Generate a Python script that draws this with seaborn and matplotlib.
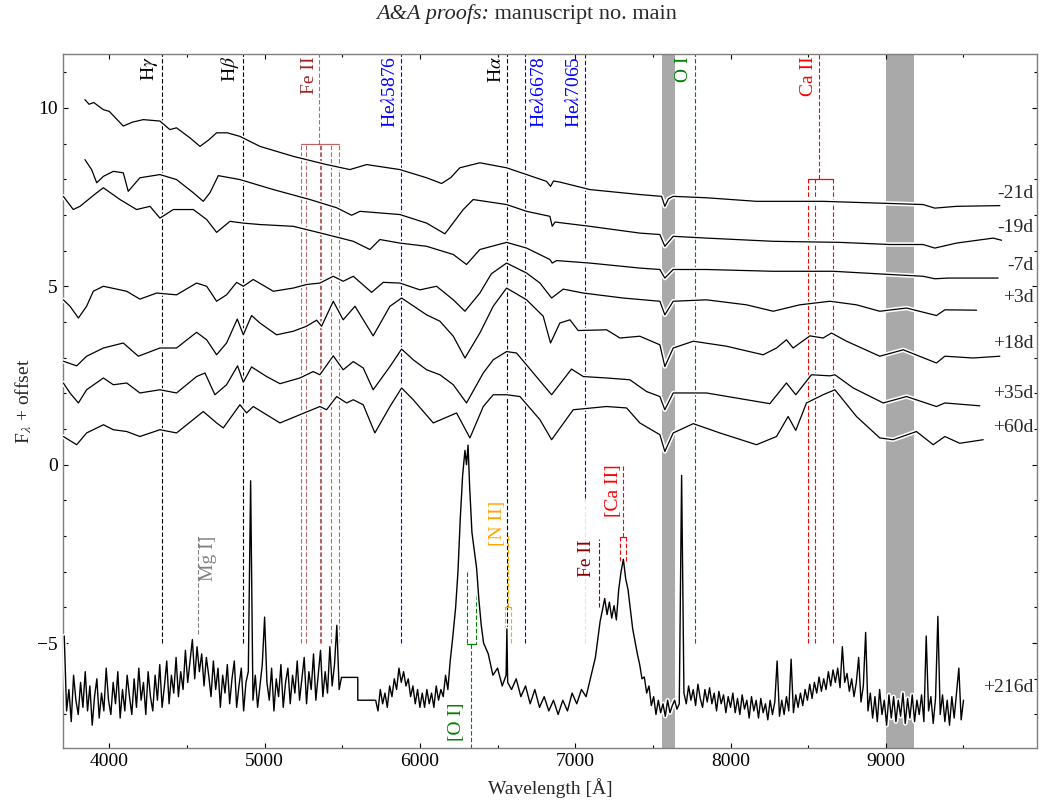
import matplotlib
matplotlib.use("Agg")
import matplotlib.pyplot as plt
import matplotlib.patheffects as pe
from matplotlib.ticker import MultipleLocator
import pandas as pd
import seaborn as sns

# spectra: wavelength [A], flux + offset
wave_m21 = [3843, 3870, 3900, 3961, 4000, 4090, 4150, 4219, 4326, 4390,
            4433, 4519, 4584, 4640, 4691, 4760, 4841, 4970, 5185, 5399,
            5549, 5657, 5871, 6043, 6140, 6200, 6257, 6386, 6558, 6687,
            6815, 6841, 6860, 6901, 7094, 7416, 7556, 7577, 7600, 7631,
            7845, 8167, 8596, 9026, 9240, 9315, 9455, 9734]
flux_m21 = [10.23, 10.1, 10.15, 9.95, 9.9, 9.49, 9.6, 9.67, 9.63, 9.39,
            9.44, 9.16, 8.92, 9.1, 9.30, 9.3, 9.20, 8.92, 8.64, 8.41,
            8.27, 8.41, 8.27, 8.04, 7.88, 8.05, 8.32, 8.46, 8.32, 8.13,
            7.94, 7.80, 7.95, 7.92, 7.71, 7.57, 7.52, 7.24, 7.45, 7.52,
            7.48, 7.38, 7.38, 7.32, 7.29, 7.19, 7.24, 7.26]

wave_m19 = [3843, 3886, 3919, 3962, 4026, 4090, 4122, 4197, 4326, 4433,
            4541, 4605, 4648, 4702, 4841, 5056, 5292, 5464, 5560, 5614,
            5871, 6043, 6161, 6279, 6343, 6558, 6687, 6837, 6852, 6870,
            7094, 7416, 7545, 7577, 7631, 7845, 8274, 8704, 9026, 9240,
            9315, 9455, 9691, 9745]
flux_m19 = [8.55, 8.27, 7.90, 8.08, 8.22, 8.18, 7.66, 8.04, 8.13, 7.99,
            7.62, 7.38, 7.62, 8.10, 7.99, 7.71, 7.43, 7.20, 6.99, 7.10,
            7.01, 6.77, 6.47, 7.15, 7.43, 7.29, 7.10, 6.96, 6.68, 6.80,
            6.68, 6.49, 6.45, 6.12, 6.40, 6.35, 6.26, 6.23, 6.17, 6.17,
            6.07, 6.21, 6.35, 6.29]

wave_m7 = [3704, 3768, 3811, 3919, 3962, 4069, 4176, 4262, 4326, 4412,
           4541, 4627, 4691, 4777, 4863, 4970, 5185, 5399, 5571, 5678,
           5742, 5871, 6043, 6215, 6300, 6386, 6558, 6687, 6837, 6852,
           6880, 7094, 7416, 7545, 7577, 7631, 7845, 8274, 8661, 9026,
           9240, 9315, 9400, 9723]
flux_m7 = [7.52, 7.15, 7.24, 7.62, 7.76, 7.43, 7.15, 7.24, 6.91, 7.15,
           7.15, 6.87, 6.51, 6.82, 6.77, 6.73, 6.68, 6.45, 6.26, 6.03,
           6.31, 6.21, 6.12, 5.89, 5.61, 6.03, 6.23, 6.07, 5.75, 5.65,
           5.72, 5.65, 5.51, 5.47, 5.23, 5.47, 5.47, 5.42, 5.42, 5.33,
           5.28, 5.21, 5.23, 5.23]

wave_p3 = [3704, 3747, 3801, 3854, 3897, 3962, 4112, 4197, 4305, 4433,
           4562, 4627, 4691, 4755, 4820, 4863, 4927, 5056, 5185, 5270,
           5356, 5442, 5506, 5571, 5689, 5764, 5871, 6000, 6107, 6215,
           6290, 6386, 6460, 6558, 6687, 6773, 6848, 6923, 7052, 7309,
           7545, 7577, 7631, 7845, 8103, 8275, 8446, 8640, 8811, 8961,
           9133, 9326, 9380, 9584]
flux_p3 = [4.62, 4.44, 4.11, 4.44, 4.86, 5.00, 4.86, 4.64, 4.81, 4.76,
           5.09, 5.00, 4.58, 4.76, 5.11, 5.00, 5.19, 4.86, 4.95, 5.05,
           5.09, 5.28, 5.14, 5.28, 4.83, 5.11, 5.09, 4.90, 5.00, 4.62,
           4.30, 4.81, 5.35, 5.65, 5.37, 5.09, 4.67, 4.92, 4.81, 4.67,
           4.58, 4.20, 4.58, 4.62, 4.48, 4.30, 4.48, 4.58, 4.48, 4.30,
           4.39, 4.18, 4.34, 4.33]

wave_p18 = [3704, 3790, 3854, 3962, 4090, 4187, 4326, 4433, 4562, 4627,
            4691, 4755, 4824, 4863, 4916, 4970, 5077, 5185, 5270, 5335,
            5367, 5442, 5506, 5582, 5699, 5807, 5882, 6043, 6129, 6215,
            6290, 6386, 6472, 6558, 6687, 6794, 6841, 6901, 6966, 7019,
            7202, 7288, 7416, 7545, 7577, 7631, 7760, 7974, 8210, 8296,
            8360, 8403, 8511, 8596, 8650, 8747, 8961, 9112, 9326, 9380,
            9562, 9734]
flux_p18 = [2.90, 2.77, 3.04, 3.27, 3.41, 3.04, 3.27, 3.27, 3.71, 3.50,
            3.08, 3.41, 4.08, 3.64, 4.18, 3.97, 3.64, 3.74, 3.88, 4.05,
            3.88, 4.58, 4.06, 4.44, 3.61, 4.44, 4.67, 4.20, 4.02, 3.60,
            2.99, 3.69, 4.44, 4.95, 4.62, 4.16, 3.41, 3.97, 4.06, 3.76,
            3.78, 3.55, 3.60, 3.36, 2.75, 3.27, 3.46, 3.32, 3.08, 3.27,
            3.50, 3.27, 3.61, 3.55, 3.69, 3.46, 3.04, 3.22, 2.85, 3.04,
            2.99, 3.04]

wave_p35 = [3704, 3747, 3801, 3854, 3962, 4026, 4112, 4197, 4326, 4433,
            4562, 4616, 4680, 4755, 4826, 4863, 4916, 5013, 5099, 5227,
            5313, 5356, 5442, 5506, 5571, 5635, 5699, 5807, 5882, 5957,
            6043, 6129, 6215, 6300, 6408, 6472, 6558, 6622, 6730, 6848,
            6976, 7052, 7202, 7352, 7459, 7545, 7577, 7631, 7845, 8253,
            8360, 8420, 8521, 8640, 8672, 8790, 8983, 9133, 9326, 9380,
            9605]
flux_p35 = [2.29, 2.01, 1.73, 2.10, 2.43, 2.24, 2.29, 2.01, 2.10, 2.01,
            2.47, 2.57, 1.96, 2.24, 2.77, 2.31, 2.74, 2.47, 2.27, 2.43,
            2.61, 2.52, 3.05, 2.66, 2.89, 2.71, 2.10, 2.75, 3.24, 2.94,
            2.66, 2.52, 2.24, 1.73, 2.57, 2.94, 3.17, 3.13, 2.57, 1.96,
            2.68, 2.47, 2.43, 2.38, 2.05, 1.91, 1.54, 2.01, 2.01, 1.71,
            2.29, 1.96, 2.52, 2.49, 2.52, 2.15, 1.73, 1.91, 1.63, 1.73,
            1.65]

wave_p60 = [3704, 3790, 3854, 3962, 4026, 4112, 4197, 4326, 4433, 4605,
            4691, 4734, 4841, 4884, 4927, 5099, 5227, 5356, 5399, 5464,
            5528, 5571, 5635, 5710, 5807, 5882, 5957, 6086, 6236, 6322,
            6408, 6472, 6558, 6644, 6773, 6848, 6987, 7202, 7331, 7416,
            7545, 7577, 7631, 7760, 7931, 8167, 8296, 8371, 8420, 8489,
            8596, 8672, 8811, 8961, 9047, 9197, 9305, 9380, 9476, 9627]
flux_p60 = [0.79, 0.56, 0.89, 1.12, 0.98, 0.93, 0.79, 0.98, 0.89, 1.49,
            1.17, 1.03, 1.68, 1.45, 1.63, 1.17, 1.40, 1.63, 1.54, 1.91,
            1.73, 1.82, 1.68, 0.89, 1.63, 2.15, 1.82, 1.17, 1.45, 0.75,
            1.63, 1.96, 1.96, 1.91, 1.26, 0.70, 1.54, 1.63, 1.59, 1.17,
            0.84, 0.37, 0.89, 1.15, 0.89, 0.56, 0.79, 1.35, 0.96, 1.73,
            1.96, 2.10, 1.35, 0.75, 0.70, 0.93, 0.56, 0.79, 0.60, 0.70]

# +216d (nebular), noisy: successive highs and lows
neb_blue_wave = [3710, 3725, 3740, 3755, 3770, 3785, 3800, 3815, 3830, 3845,
                 3860, 3875, 3890, 3905, 3920, 3935, 3950, 3965, 3980, 3995,
                 4010, 4025, 4040, 4055, 4070, 4085, 4100, 4115, 4130, 4145,
                 4160, 4175, 4190, 4205, 4220, 4235, 4250, 4265, 4280, 4295,
                 4310, 4325, 4340, 4355, 4370, 4385, 4400, 4415, 4430, 4445,
                 4460, 4475, 4490, 4505, 4520, 4535, 4550, 4565, 4580, 4595,
                 4610, 4625, 4640, 4655, 4670, 4685, 4700, 4715, 4730, 4745,
                 4760, 4775, 4790, 4805, 4820, 4835, 4850, 4865, 4880, 4895,
                 4910, 4925, 4940, 4955, 4970, 4985, 5000, 5015, 5030, 5045,
                 5060, 5075, 5090, 5105, 5120, 5135, 5150, 5165, 5180, 5195,
                 5210, 5225, 5240, 5255, 5270, 5285, 5300, 5315, 5330, 5345,
                 5360, 5375, 5390, 5405, 5420, 5435, 5450, 5465, 5480, 5495]
neb_blue_flux = [-4.8, -6.9, -6.3, -7.2, -5.9, -6.6, -7.0, -6.1, -6.8, -5.8,
                 -6.9, -6.2, -7.3, -6.5, -6.0, -7.1, -6.4, -6.9, -5.7, -6.6,
                 -7.0, -6.1, -6.7, -5.8, -7.1, -6.3, -6.9, -5.9, -6.5, -7.0,
                 -6.0, -6.8, -5.7, -6.6, -6.1, -7.0, -5.8, -6.5, -6.9, -5.9,
                 -6.6, -5.6, -6.8, -6.2, -5.5, -6.7, -5.9, -6.4, -5.4, -6.5,
                 -5.8, -6.3, -5.2, -6.1, -5.5, -4.9, -6.0, -5.1, -5.8, -5.3,
                 -6.2, -5.4, -5.9, -6.5, -5.5, -6.3, -5.7, -6.8, -5.9, -6.4,
                 -5.6, -6.7, -6.0, -5.5, -6.8, -6.2, -5.7, -6.9, -6.1, -5.8,
                 -0.45, -6.6, -5.9, -6.8, -6.2, -5.6, -4.27, -6.1, -6.6, -5.7,
                 -6.9, -6.0, -6.5, -5.6, -6.8, -6.1, -5.7, -6.7, -5.9, -6.4,
                 -5.5, -6.6, -6.0, -5.4, -6.7, -5.8, -6.3, -5.3, -6.6, -5.9,
                 -5.2, -6.5, -5.8, -6.4, -5.1, -6.2, -5.6, -4.5, -6.3, -5.96]
neb_gap_wave = [5600, 5600]
neb_gap_flux = [-5.96, -6.6]
neb_mid_wave = [5715, 5730, 5745, 5760, 5775, 5790, 5805, 5820, 5835, 5850,
                5865, 5880, 5895, 5910, 5925, 5940, 5955, 5970, 5985, 6000,
                6015, 6030, 6045, 6060, 6075, 6090, 6105, 6120, 6135, 6150,
                6165, 6180, 6195]
neb_mid_flux = [-6.6, -6.9, -6.3, -6.7, -6.4, -6.8, -6.2, -6.5, -6.0, -6.3,
                -5.7, -6.1, -5.8, -6.2, -6.0, -6.5, -6.2, -6.7, -6.3, -6.8,
                -6.4, -6.8, -6.3, -6.7, -6.4, -6.8, -6.2, -6.6, -6.3, -6.5,
                -5.9, -6.3, -5.5]
neb_core_wave = [6210, 6230, 6245, 6260, 6275, 6290, 6300, 6310, 6320, 6335,
                 6350, 6365, 6380, 6395, 6410, 6440, 6470, 6500, 6530, 6555,
                 6560, 6565, 6590, 6620, 6650, 6680, 6710, 6740, 6770, 6800,
                 6830, 6860, 6890, 6920, 6950, 6980, 7010, 7040, 7070, 7100,
                 7130, 7160, 7190, 7205, 7220, 7235, 7250, 7265, 7280, 7295,
                 7310, 7325, 7340, 7370, 7400]
neb_core_flux = [-4.9, -4.0, -3.0, -1.5, -0.3, 0.4, 0.0, 0.55, -0.6, -1.9,
                 -2.4, -2.9, -3.8, -4.5, -5.0, -5.3, -5.9, -5.7, -6.2, -5.9,
                 -4.6, -6.1, -6.3, -6.0, -6.5, -6.2, -6.7, -6.3, -6.8, -6.5,
                 -6.9, -6.6, -7.0, -6.6, -6.9, -6.4, -6.7, -6.3, -6.5, -5.95,
                 -5.4, -4.4, -3.75, -4.2, -3.85, -4.3, -3.95, -4.35, -3.5, -3.0,
                 -2.65, -3.2, -3.5, -4.6, -5.3]
neb_red_wave = [7415, 7430, 7445, 7460, 7475, 7490, 7505, 7520, 7535, 7550,
                7565, 7580, 7595, 7610, 7625, 7640, 7655, 7670, 7685, 7700,
                7715, 7730, 7745, 7760, 7775, 7790, 7805, 7820, 7835, 7850,
                7865, 7880, 7895, 7910, 7925, 7940, 7955, 7970, 7985, 8000,
                8015, 8030, 8045, 8060, 8075, 8090, 8105, 8120, 8135, 8150,
                8165, 8180, 8195, 8210, 8225, 8240, 8255, 8270, 8285, 8300,
                8315, 8330, 8345, 8360, 8375, 8390, 8405, 8420, 8435, 8450,
                8465, 8480, 8495, 8510, 8525, 8540, 8555, 8570, 8585, 8600,
                8615, 8630, 8645, 8660, 8675, 8690, 8705, 8720, 8735, 8750,
                8765, 8780, 8795, 8810, 8825, 8840, 8855, 8870, 8885, 8900,
                8915, 8930, 8945, 8960, 8975, 8990, 9005, 9020, 9035, 9050,
                9065, 9080, 9095, 9110, 9125, 9140, 9155, 9170, 9185, 9200,
                9215, 9230, 9245, 9260, 9275, 9290, 9305, 9320, 9335, 9350,
                9365, 9380, 9395, 9410, 9425, 9440, 9455, 9470, 9485, 9500]
neb_red_flux = [-5.6, -6.0, -5.95, -6.4, -6.2, -6.75, -6.5, -7.0, -6.6, -6.95,
                -6.7, -7.05, -6.6, -6.95, -6.75, -6.6, -6.85, -6.7, -0.3, -6.4,
                -6.7, -6.2, -6.6, -6.3, -6.75, -6.15, -6.55, -6.8, -6.3, -6.65,
                -6.25, -6.7, -6.4, -6.9, -6.35, -6.7, -6.45, -6.95, -6.5, -6.8,
                -6.4, -6.95, -6.55, -7.0, -6.45, -6.85, -6.6, -7.1, -6.5, -6.9,
                -6.6, -7.1, -6.55, -6.95, -6.7, -7.15, -6.6, -7.0, -6.65, -5.5,
                -7.05, -6.6, -7.0, -6.5, -6.9, -5.45, -6.95, -6.45, -6.8, -6.4,
                -6.75, -6.3, -6.6, -6.15, -6.55, -6.1, -6.4, -5.95, -6.35, -6.0,
                -6.3, -5.8, -6.2, -5.75, -6.1, -5.7, -6.25, -5.1, -6.1, -5.85,
                -6.35, -6.0, -6.5, -6.1, -5.4, -6.65, -6.2, -4.7, -6.9, -6.4,
                -7.1, -6.5, -7.2, -6.3, -7.0, -6.6, -7.3, -6.45, -7.1, -6.5,
                -7.2, -6.6, -7.05, -6.4, -7.25, -6.55, -7.1, -6.45, -7.2, -6.6,
                -7.0, -6.45, -7.2, -4.8, -6.9, -6.5, -7.25, -6.55, -4.25, -7.0,
                -6.45, -7.2, -6.6, -7.3, -6.5, -7.1, -6.4, -5.7, -7.15, -6.6]

wave_p216 = neb_blue_wave + neb_gap_wave + neb_mid_wave + neb_core_wave + neb_red_wave
flux_p216 = neb_blue_flux + neb_gap_flux + neb_mid_flux + neb_core_flux + neb_red_flux

epochs = ["-21d", "-19d", "-7d", "+3d", "+18d", "+35d", "+60d", "+216d"]
waves = [wave_m21, wave_m19, wave_m7, wave_p3, wave_p18, wave_p35, wave_p60, wave_p216]
fluxes = [flux_m21, flux_m19, flux_m7, flux_p3, flux_p18, flux_p35, flux_p60, flux_p216]

# line identifications [A]
h_names = [r"H$\gamma$", r"H$\beta$", r"H$\alpha$"]
h_waves = [4340.5, 4861.3, 6562.8]
he_names = [r"He$\lambda$5876", r"He$\lambda$6678", r"He$\lambda$7065"]
he_waves = [5875.6, 6678.2, 7065.2]
oi_wave = 7773.4
feii_waves = [5234.6, 5264.8, 5354.0, 5362.9, 5425.3, 5477.0]
caii_waves = [8498.0, 8542.1, 8662.1]
telluric = [(7560, 7640), (9000, 9180)]
# nebular lines
mgi_wave = 4571.1
oi_neb_waves = [6300.3, 6363.8]
nii_waves = [6548.1, 6583.5]
feii_neb_wave = 7155.2
caii_neb_waves = [7291.5, 7323.9]

df = pd.concat([pd.DataFrame({"epoch": e, "wave": w, "flux": f})
                for e, w, f in zip(epochs, waves, fluxes)], ignore_index=True)

sns.set_style("ticks")
plt.rcParams["font.family"] = ["Liberation Serif", "DejaVu Serif"]
plt.rcParams["mathtext.fontset"] = "stix"
plt.rcParams["font.size"] = 14

fig = plt.figure(figsize=(10.45, 8.07), dpi=100)
ax = fig.add_axes([0.060, 0.0735, 0.9326, 0.8592])

YMIN, YMAX = -7.93, 11.5
dash = (0, (4, 2))


def vline(x, y0, y1, color, alpha=1.0):
    ax.plot([x, x], [y0, y1], ls=dash, lw=0.8, color=color, alpha=alpha, zorder=2)


def bracket(ws, y_bar, y_ends, y_stem, color, alpha=1.0):
    if not isinstance(y_ends, list):
        y_ends = [y_ends] * len(ws)
    for w, ye in zip(ws, y_ends):
        vline(w, ye, y_bar, color, alpha)
    ax.plot([min(ws), max(ws)], [y_bar, y_bar], color=color, lw=0.9, alpha=alpha, zorder=2)
    c = sum(ws) / len(ws)
    vline(c, y_bar, y_stem, color, alpha)
    return c


def label(x, y, s, color, ha="right", va="top", alpha=1.0):
    ax.text(x, y, s, rotation=90, ha=ha, va=va, color=color, fontsize=14, alpha=alpha)


for lo, hi in telluric:
    ax.axvspan(lo, hi, color="#a9a9a9", lw=0, zorder=0.5)

TOP = 11.45
for n, w in zip(h_names, h_waves):
    vline(w, -5, YMAX, "k")
    label(w - 12, TOP, n, "k")
for n, w in zip(he_names, he_waves):
    if n.endswith("7065"):
        vline(w, -5, -0.93, "blue", alpha=0.12)
        vline(w, -0.93, YMAX, "blue")
    else:
        vline(w, -5, YMAX, "blue")
    if n.endswith("6678"):
        label(w + 30, TOP, n, "blue", ha="left")
    else:
        label(w - 12, TOP, n, "blue")
vline(oi_wave, -5, YMAX, "green")
label(oi_wave - 20, TOP, "O I", "green")
c = bracket(feii_waves, 9.0, -5, YMAX, "darkred", alpha=0.6)
label(c - 12, TOP, "Fe II", "darkred", alpha=0.85)
c = bracket(caii_waves, 8.0, -5, YMAX, "red")
label(c - 12, TOP, "Ca II", "red")

# nebular identifications
vline(mgi_wave, -4.75, -2.0, "gray")
label(mgi_wave + 12, -2.0, "Mg I]", "gray", ha="left")
c = bracket(oi_neb_waves, -5.03, [-3.0, -3.65], YMIN, "green")
label(c - 40, -7.75, "[O I]", "green", va="bottom")
c = bracket(nii_waves, -4.0, -5.0, -2.0, "orange")
label(c - 10, -1.0, "[N II]", "orange")
vline(feii_neb_wave, -4.0, -2.08, "darkred")
label(feii_neb_wave - 25, -2.08, "Fe II", "darkred")
c = bracket(caii_neb_waves, -2.03, -2.7, 0.0, "red")
label(c - 8, 0.0, "[Ca II]", "red")

halo = [pe.Stroke(linewidth=3.2, foreground="w"), pe.Normal()]
for e in epochs:
    sub = df[df["epoch"] == e]
    sns.lineplot(data=sub, x="wave", y="flux", ax=ax, color="k",
                 lw=1.0 if e == "+216d" else 0.9,
                 sort=False, estimator=None, zorder=3, path_effects=halo)
    ax.text(9950, sub["flux"].iloc[-1] + 0.35, e, ha="right", va="center", fontsize=14)

ax.set_xlim(3700, 9975)
ax.set_ylim(YMIN, YMAX)
ax.xaxis.set_major_locator(MultipleLocator(1000))
ax.xaxis.set_minor_locator(MultipleLocator(500))
ax.yaxis.set_major_locator(MultipleLocator(5))
ax.yaxis.set_minor_locator(MultipleLocator(1))
ax.tick_params(which="both", direction="in", top=True, right=True, colors="k", labelsize=14)
ax.tick_params(which="major", length=3.6, width=0.8)
ax.tick_params(which="minor", length=2.2, width=0.8)
for s in ax.spines.values():
    s.set_color("#7f7f7f")
    s.set_linewidth(1.0)
ax.set_xlabel("Wavelength [Å]", fontsize=14, labelpad=6)
ax.set_ylabel(r"F$_{\lambda}$ + offset", fontsize=14, labelpad=2)

t1 = fig.text(489 / 1045, 1 - 14 / 807, "A&A proofs:", style="italic", ha="right",
              va="center", fontsize=16)
ax.annotate(" manuscript no. main", xy=(1, 0), xycoords=t1, ha="left", va="bottom",
            fontsize=16, annotation_clip=False)

fig.savefig("out.png", dpi=100)
